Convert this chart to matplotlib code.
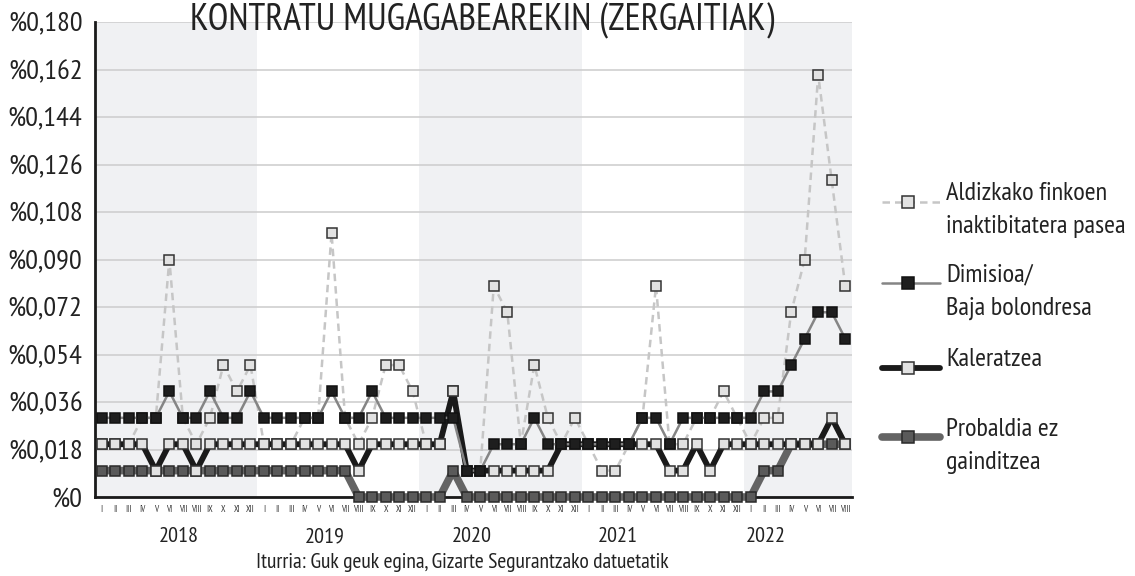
import matplotlib
matplotlib.use('Agg')
import matplotlib.pyplot as plt
from matplotlib.lines import Line2D
import numpy as np

FONT = ['PT Sans Narrow', 'DejaVu Sans']
plt.rcParams['font.family'] = FONT

# ---- data ----
years = ['2018', '2019', '2020', '2021', '2022']
month_roman = ['I', 'II', 'III', 'IV', 'V', 'VI', 'VII', 'VIII', 'IX', 'X', 'XI', 'XII',
               'I', 'II', 'III', 'IV', 'V', 'VI', 'VII', 'VIII', 'IX', 'X', 'XI', 'XII',
               'I', 'II', 'III', 'IV', 'V', 'VI', 'VII', 'VIII', 'IX', 'X', 'XI', 'XII',
               'I', 'II', 'III', 'IV', 'V', 'VI', 'VII', 'VIII', 'IX', 'X', 'XI', 'XII',
               'I', 'II', 'III', 'IV', 'V', 'VI', 'VII', 'VIII']

aldizkako = [0.02, 0.02, 0.02, 0.03, 0.03, 0.09, 0.03, 0.02, 0.03, 0.05, 0.04, 0.05,
             0.02, 0.02, 0.02, 0.03, 0.03, 0.10, 0.03, 0.02, 0.03, 0.05, 0.05, 0.04,
             0.02, 0.02, 0.04, 0.01, 0.01, 0.08, 0.07, 0.02, 0.05, 0.03, 0.02, 0.03,
             0.02, 0.01, 0.01, 0.02, 0.03, 0.08, 0.02, 0.02, 0.03, 0.03, 0.04, 0.03,
             0.02, 0.03, 0.03, 0.07, 0.09, 0.16, 0.12, 0.08]
dimisioa = [0.03, 0.03, 0.03, 0.03, 0.03, 0.04, 0.03, 0.03, 0.04, 0.03, 0.03, 0.04,
            0.03, 0.03, 0.03, 0.03, 0.03, 0.04, 0.03, 0.03, 0.04, 0.03, 0.03, 0.03,
            0.03, 0.03, 0.03, 0.01, 0.01, 0.02, 0.02, 0.02, 0.03, 0.02, 0.02, 0.02,
            0.02, 0.02, 0.02, 0.02, 0.03, 0.03, 0.02, 0.03, 0.03, 0.03, 0.03, 0.03,
            0.03, 0.04, 0.04, 0.05, 0.06, 0.07, 0.07, 0.06]
kaleratzea = [0.02, 0.02, 0.02, 0.02, 0.01, 0.02, 0.02, 0.01, 0.02, 0.02, 0.02, 0.02,
              0.02, 0.02, 0.02, 0.02, 0.02, 0.02, 0.02, 0.01, 0.02, 0.02, 0.02, 0.02,
              0.02, 0.02, 0.04, 0.01, 0.01, 0.01, 0.01, 0.01, 0.01, 0.01, 0.02, 0.02,
              0.02, 0.02, 0.02, 0.02, 0.02, 0.02, 0.01, 0.01, 0.02, 0.01, 0.02, 0.02,
              0.02, 0.02, 0.02, 0.02, 0.02, 0.02, 0.03, 0.02]
probaldia = [0.01, 0.01, 0.01, 0.01, 0.01, 0.01, 0.01, 0.01, 0.01, 0.01, 0.01, 0.01,
             0.01, 0.01, 0.01, 0.01, 0.01, 0.01, 0.01, 0.00, 0.00, 0.00, 0.00, 0.00,
             0.00, 0.00, 0.01, 0.00, 0.00, 0.00, 0.00, 0.00, 0.00, 0.00, 0.00, 0.00,
             0.00, 0.00, 0.00, 0.00, 0.00, 0.00, 0.00, 0.00, 0.00, 0.00, 0.00, 0.00,
             0.00, 0.01, 0.01, 0.02, 0.02, 0.02, 0.02, 0.02]

ytick_vals = [0.0, 0.018, 0.036, 0.054, 0.072, 0.090, 0.108, 0.126, 0.144, 0.162, 0.180]
ytick_labels = ['%0', '%0,018', '%0,036', '%0,054', '%0,072', '%0,090',
                '%0,108', '%0,126', '%0,144', '%0,162', '%0,180']

labels = ['Aldizkako finkoen\ninaktibitatera pasea', 'Dimisioa/\nBaja bolondresa',
          'Kaleratzea', 'Probaldia ez\ngainditzea']
title = 'KONTRATU MUGAGABEAREKIN (ZERGAITIAK)'
source = 'Iturria: Guk geuk egina, Gizarte Segurantzako datuetatik'

# ---- figure ----
W, H = 1135, 576
fig = plt.figure(figsize=(W / 100, H / 100), dpi=100)
ax = fig.add_axes([95 / W, 1 - 497 / H, (852 - 95) / W, (497 - 22) / H])

x = np.arange(len(month_roman))
ax.set_xlim(-0.5, len(x) - 0.5)
ax.set_ylim(0, 0.18)

shade = '#f0f1f3'
for k in range(0, len(years), 2):
    ax.axvspan(12 * k - 0.5, min(12 * k + 11.5, len(x) - 0.5), color=shade, zorder=0, lw=0)

ax.set_axisbelow(True)
ax.yaxis.grid(True, color='#cfcfcf', lw=1.2)
ax.set_yticks(ytick_vals)
ax.set_yticklabels(ytick_labels, fontsize=20.5, color='#222222')
ax.set_xticks(x)
ax.set_xticklabels(month_roman, fontsize=6.5, color='#333333')
ax.tick_params(axis='both', length=0)
ax.tick_params(axis='y', pad=9)
ax.tick_params(axis='x', pad=6)

for s in ['top', 'right']:
    ax.spines[s].set_visible(False)
for s in ['left', 'bottom']:
    ax.spines[s].set_color('#1a1a1a')
    ax.spines[s].set_linewidth(2)
    ax.spines[s].set_zorder(2)

ms = 7.2
light_face = '#e2e2e2'
edge = '#333333'

style_prob = dict(color='#646464', lw=5.5, marker='s', ms=ms, mfc='#5a5a5a', mec='#2a2a2a', mew=1.1)
style_ald = dict(color='#c6c6c6', lw=1.8, ls=(0, (3, 2)), marker='s', ms=ms, mfc=light_face, mec=edge, mew=1.1)
style_kal = dict(color='#1a1a1a', lw=4.2, marker='s', ms=ms, mfc=light_face, mec=edge, mew=1.1)
style_dim = dict(color='#858585', lw=1.8, marker='s', ms=ms, mfc='#1e1e1e', mec='#111111', mew=1.1)

ax.plot(x, probaldia, zorder=3, clip_on=False, **style_prob)
ax.plot(x, aldizkako, zorder=4, clip_on=False, **style_ald)
ax.plot(x, kaleratzea, zorder=5, clip_on=False, **style_kal)
ax.plot(x, dimisioa, zorder=6, clip_on=False, **style_dim)

# year labels
year_pos = [5.7, 16.5, 27.4, 38.2, 49.1]
for yp, yl in zip(year_pos, years):
    ax.text(yp, -(537 - 497) / (497 - 22), yl, transform=ax.get_xaxis_transform(),
            ha='center', va='center', fontsize=16, color='#222222')

fig.text(462 / W, 1 - 562 / H, source, ha='center', va='center', fontsize=15.5, color='#222222')
fig.text(482 / W, 1 - 30 / H, title, ha='center', va='baseline', fontsize=27, color='#222222')

# legend
styles = [style_ald, style_dim, style_kal, style_prob]
hy = [202, 283, 368, 437]
for st, yy, lab in zip(styles, hy, labels):
    yf = 1 - yy / H
    line_kw = {k: v for k, v in st.items() if k not in ('marker', 'ms', 'mfc', 'mec', 'mew')}
    fig.add_artist(Line2D([882 / W, 940 / W], [yf, yf], transform=fig.transFigure,
                          solid_capstyle='round', **line_kw))
    fig.add_artist(Line2D([908 / W], [yf], transform=fig.transFigure, ls='none',
                          marker='s', ms=st['ms'] + 1.5, mfc=st['mfc'], mec=st['mec'], mew=st['mew']))
    lines = lab.split('\n')
    for j, t in enumerate(lines):
        fig.text(946 / W, 1 - (yy - 8 + 33 * j) / H, t, ha='left', va='center',
                 fontsize=19, color='#222222')

fig.savefig('out.png', dpi=100)
